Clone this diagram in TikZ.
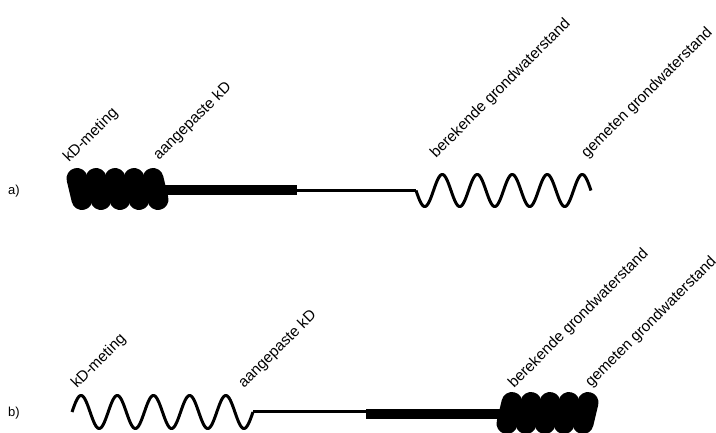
\documentclass[tikz,border=0pt]{standalone}
\usepackage{fontspec}
\setmainfont{Liberation Sans}
\begin{document}
\begin{tikzpicture}[x=1pt,y=-1pt,
  lbl/.style={anchor=base west, rotate=45, inner sep=0pt, font=\fontsize{15.3}{18}\selectfont},
  tag/.style={anchor=base west, inner sep=0pt, font=\fontsize{13}{15}\selectfont},
  lobe/.style={line width=21pt, line cap=round},
  wave/.style={line width=3pt, line join=round},
  thinline/.style={line width=2.2pt},
  barline/.style={line width=10pt}]
\fill[white] (0,0) rectangle (716,432);
\useasboundingbox (0,0) rectangle (716,432);

% ---------------- row a ----------------
\node[tag] (taga) at (8,194) {a)};
\node[lbl] (a1) at (69,163) {kD-meting};
\node[lbl] (a2) at (159,161) {aangepaste kD};
\node[lbl] (a3) at (436,159) {berekende grondwaterstand};
\node[lbl] (a4) at (587,159) {gemeten grondwaterstand};

% tight coil (kD side): five overlapping slanted loops
\foreach \k in {0,...,4}
  \draw[lobe] ({77+19*\k},178.5) -- ({82+19*\k},199.5);
\coordinate (acoilend) at (160,189.5);
\coordinate (abarend) at (297,189.5);
\coordinate (athinstart) at (297,190.5);
\coordinate (awavestart) at (416,190.5);
\draw[barline] (acoilend) -- (abarend);
\draw[thinline] (athinstart) -- (awavestart);
% loose wave (groundwater side)
\draw[wave] plot[domain=0:1800, samples=300, variable=\t]
  ({416 + 35*(\t/360)}, {190.5 + 16*sin(\t)});

% ---------------- row b ----------------
\node[tag] (tagb) at (8,416.5) {b)};
\node[lbl] (b1) at (77,389) {kD-meting};
\node[lbl] (b2) at (244,389) {aangepaste kD};
\node[lbl] (b3) at (514,389) {berekende grondwaterstand};
\node[lbl] (b4) at (591,388) {gemeten grondwaterstand};

% loose wave (kD side)
\draw[wave] plot[domain=0:1800, samples=300, variable=\t]
  ({72 + 36.2*(\t/360)}, {412 - 16.5*sin(\t)});
\coordinate (bwaveend) at (253,411.5);
\coordinate (bthinend) at (366,411.5);
\coordinate (bbarstart) at (366,413.5);
\coordinate (bcoilstart) at (508,413.5);
\draw[thinline] (bwaveend) -- (bthinend);
\draw[barline] (bbarstart) -- (bcoilstart);
% tight coil (groundwater side): five overlapping slanted loops
\foreach \k in {0,...,4}
  \draw[lobe] ({512+19*\k},402.5) -- ({507+19*\k},423.5);
\end{tikzpicture}
\end{document}
